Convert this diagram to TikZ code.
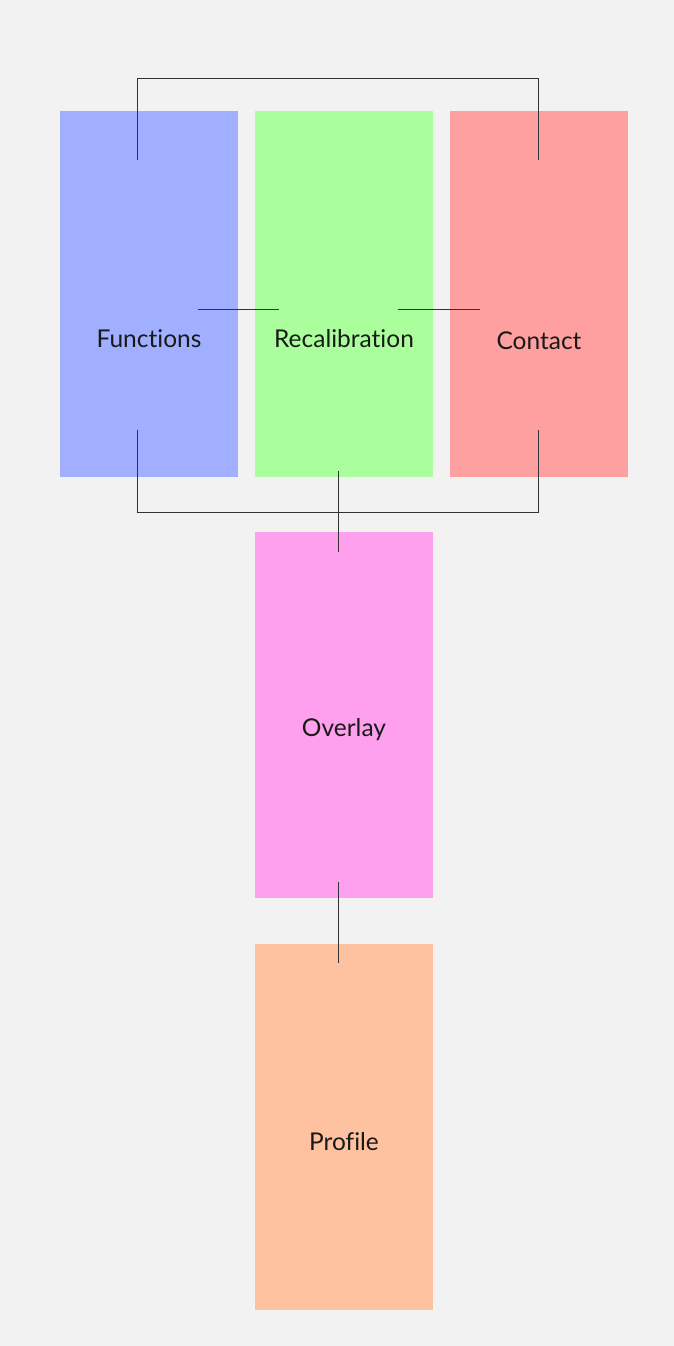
\documentclass[tikz,border=0pt]{standalone}
\usepackage{fontspec}
\setmainfont{Lato}[Ligatures=NoCommon]
\definecolor{bg}{HTML}{F2F2F2}
\definecolor{cblue}{HTML}{A0AFFF}
\definecolor{cgreen}{HTML}{AAFF9C}
\definecolor{cred}{HTML}{FFA0A0}
\definecolor{cpink}{HTML}{FFA0EE}
\definecolor{corange}{HTML}{FFC2A0}
\definecolor{lnc}{HTML}{333333}
\begin{document}
\begin{tikzpicture}[x=1pt,y=-1pt,
  box/.style={draw=none,minimum width=178pt,minimum height=366pt,inner sep=0pt,anchor=north west},
  lbl/.style={font=\fontsize{24.5}{29}\selectfont,text=black!90,inner sep=0pt},
  conn/.style={draw=lnc,line width=1pt}]
\fill[bg] (0,0) rectangle (674,1346);
\useasboundingbox (0,0) rectangle (674,1346);
\node[box,fill=cblue] (fun) at (60,111) {};
\node[box,fill=cgreen] (rec) at (255,111) {};
\node[box,fill=cred] (con) at (450,111) {};
\node[box,fill=cpink] (ove) at (255,532) {};
\node[box,fill=corange] (pro) at (255,944) {};
\node[lbl] (funl) at (149,339) {Functions};
\node[lbl] (recl) at (344,339) {Recalibration};
\node[lbl] (conl) at (539,341) {Contact};
\node[lbl] (ovel) at (344,730) {Overlay};
\node[lbl] (prol) at (344,1142) {Profile};
\coordinate (ft) at (137.5,160);
\coordinate (ct) at (538.5,160);
\coordinate (fb) at (137.5,430);
\coordinate (cb) at (538.5,430);
\coordinate (rb) at (338.5,471);
\coordinate (ot) at (338.5,552);
\coordinate (ob) at (338.5,882);
\coordinate (pt) at (338.5,963);
\coordinate (fr) at (198,309.5);
\coordinate (rl) at (279,309.5);
\coordinate (rr) at (398,309.5);
\coordinate (cl) at (480,309.5);
\draw[conn] (ft) |- (338.5,78.5) -| (ct);
\draw[conn] (fb) |- (338.5,512.5) -| (cb);
\draw[conn] (rb) -- (ot);
\draw[conn] (ob) -- (pt);
\draw[conn] (fr) -- (rl);
\draw[conn] (rr) -- (cl);
\end{tikzpicture}
\end{document}
